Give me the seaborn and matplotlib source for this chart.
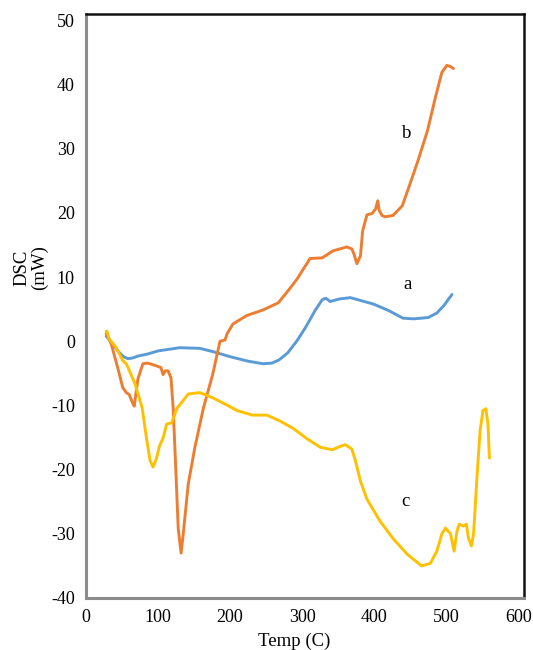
import numpy as np
import pandas as pd
import matplotlib
matplotlib.use('Agg')
import matplotlib.pyplot as plt
import seaborn as sns

# curve a (blue)
temp_a = [28, 32, 38, 45, 52, 58, 65, 72, 85, 100, 130, 158, 176, 200, 225, 246, 258, 268,
          280, 293, 305, 318, 328, 333, 339, 352, 367, 383, 399, 420, 440, 455, 475, 487, 497, 508]
dsc_a = [0.8, 0.3, -0.6, -1.6, -2.4, -2.7, -2.6, -2.3, -2.0, -1.5, -1.0, -1.1, -1.6, -2.4, -3.1, -3.5,
         -3.4, -2.9, -1.8, 0.1, 2.2, 4.8, 6.5, 6.7, 6.2, 6.6, 6.8, 6.3, 5.8, 4.8, 3.6, 3.5, 3.7, 4.4, 5.6, 7.3]

# curve b (orange)
temp_b = [28, 30, 35, 44, 51, 56, 60, 65, 67, 72, 79, 86, 97, 104, 107, 110, 114, 118, 121, 124,
          128, 132, 135, 142, 151, 163, 176, 186, 193, 196, 204, 223, 246, 267, 280, 293, 311, 328,
          343, 362, 369, 372, 376, 381, 384, 390, 397, 402, 405, 407, 411, 415, 426, 439, 450, 461,
          474, 485, 494, 501, 506, 510]
dsc_b = [1.2, 0.8, -0.4, -4.1, -7.2, -8.0, -8.3, -9.7, -10.1, -5.9, -3.5, -3.4, -3.8, -4.1, -5.2,
         -4.6, -4.6, -5.7, -10.4, -18.2, -29.1, -33.0, -30.0, -22.2, -16.6, -10.4, -5.1, 0.0, 0.2,
         1.2, 2.7, 4.0, 4.9, 6.0, 7.8, 9.7, 12.9, 13.0, 14.1, 14.7, 14.4, 13.6, 12.1, 13.3, 17.2,
         19.7, 19.9, 20.6, 21.9, 20.4, 19.6, 19.4, 19.6, 21.1, 24.6, 28.2, 32.8, 38.0, 41.9, 43.0, 42.8, 42.5]

# curve c (yellow)
temp_c = [28, 29, 32, 42, 51, 56, 68, 78, 84, 89, 93, 98, 102, 107, 112, 119, 126, 133, 142, 158,
          176, 195, 210, 231, 251, 269, 288, 307, 325, 342, 350, 360, 369, 374, 381, 390, 408, 426,
          446, 466, 478, 487, 494, 499, 506, 511, 515, 518, 524, 528, 531, 535, 538, 543, 547, 551,
          555, 558, 560]
dsc_c = [1.5, 1.6, 0.4, -1.0, -3.0, -3.5, -6.6, -10.4, -15.1, -18.6, -19.6, -18.2, -16.3, -15.1,
         -12.9, -12.7, -10.5, -9.5, -8.2, -8.0, -8.8, -9.9, -10.8, -11.5, -11.5, -12.4, -13.6, -15.2,
         -16.5, -16.9, -16.5, -16.1, -16.8, -18.6, -21.8, -24.6, -28.0, -30.7, -33.2, -35.0, -34.6,
         -32.7, -30.0, -29.1, -30.0, -32.7, -29.6, -28.5, -28.8, -28.5, -30.7, -31.9, -30.0, -20.7,
         -14.0, -10.8, -10.5, -12.9, -18.2]

curve_names = ['a', 'b', 'c']
curve_colors = ['#5B9BD5', '#ED7D31', '#FFC000']
label_pos = [(447, 8.8), (445, 32.4), (443, -24.9)]

sns.set_style('white')
plt.rcParams['font.family'] = ['Liberation Serif', 'DejaVu Serif']
plt.rcParams['axes.unicode_minus'] = False
plt.rcParams['text.color'] = 'black'
plt.rcParams['xtick.color'] = 'black'
plt.rcParams['ytick.color'] = 'black'

fig = plt.figure(figsize=(5.33, 6.5), dpi=100)
ax = fig.add_axes([86 / 533, 1 - 598 / 650, 438 / 533, 584 / 650])

curves = [(temp_a, dsc_a), (temp_b, dsc_b), (temp_c, dsc_c)]
for (t, d), name, col in zip(curves, curve_names, curve_colors):
    df = pd.DataFrame({'Temp': t, 'DSC': d})
    sns.lineplot(data=df, x='Temp', y='DSC', color=col, lw=2.1, sort=False, ax=ax)

for name, (tx, ty) in zip(curve_names, label_pos):
    ax.text(tx, ty, name, fontsize=13.5, ha='center', va='center')

ax.set_xlim(0, 608)
ax.set_ylim(-40, 51)
ax.set_xticks(range(0, 601, 100))
ax.set_yticks(range(-40, 51, 10))
ax.tick_params(length=0, labelsize=13, pad=8)
ax.set_xlabel('')
ax.set_ylabel('')

for side in ['left', 'bottom']:
    ax.spines[side].set_color('#8c8c8c')
    ax.spines[side].set_linewidth(2.2)
for side in ['top', 'right']:
    ax.spines[side].set_color('#111111')
    ax.spines[side].set_linewidth(1.8)

fig.text(294 / 533, 1 - 641 / 650, 'Temp (C)', fontsize=13.5, ha='center', va='center')
fig.text(31 / 533, 1 - 268 / 650, 'DSC\n(mW)', fontsize=13.5, rotation=90,
         ha='center', va='center', multialignment='center', linespacing=1.0)

fig.savefig('out.png', dpi=100)
